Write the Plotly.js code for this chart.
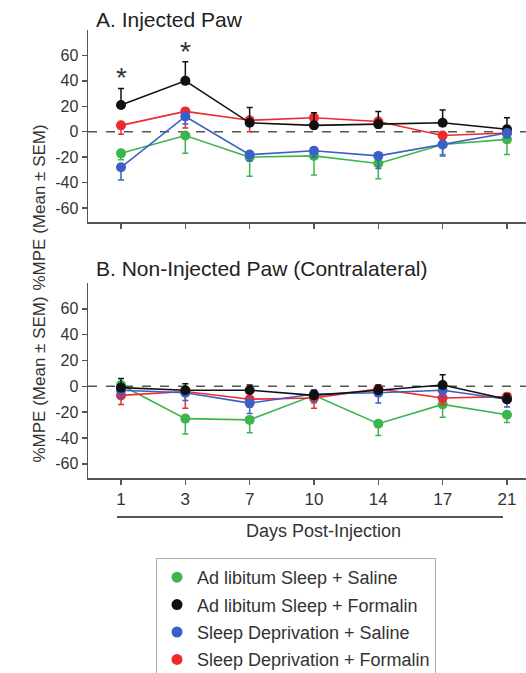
<!DOCTYPE html>
<html>
<head>
<meta charset="utf-8">
<script src="https://cdn.plot.ly/plotly-3.0.1.min.js"></script>
<style>html,body{margin:0;padding:0;background:#fff;}#chart{width:526px;height:673px;}</style>
</head>
<body>
<div id="chart"></div>
<script>
// ---- data ----
const days = ['1', '3', '7', '10', '14', '17', '21'];
const groupNames = ['Ad libitum Sleep + Saline', 'Ad libitum Sleep + Formalin', 'Sleep Deprivation + Saline', 'Sleep Deprivation + Formalin'];
const groupColors = ['#3cb54a', '#111111', '#3a5fc6', '#ee2a2f'];

// Panel A: Injected paw
const injAlSal = [-17, -3, -20, -19, -25, -10, -6];
const injAlSalErr = [5, 14, 15, 15, 12, 8, 12];
const injAlForm = [21, 40, 7, 5, 6, 7, 2];
const injAlFormErr = [13, 15, 12, 10, 10, 10, 9];
const injSdSal = [-28, 12, -18, -15, -19, -10, -1];
const injSdSalErr = [10, 6, 5, 5, 10, 9, 4];
const injSdForm = [5, 16, 9, 11, 8, -3, -1];
const injSdFormErr = [7, 13, 9, 4, 5, 3, 3];

// Panel B: Non-injected paw (contralateral)
const conAlSal = [1, -25, -26, -7, -29, -14, -22];
const conAlSalErr = [4, 12, 10, 6, 9, 10, 6];
const conAlForm = [-1, -3, -3, -7, -3, 1, -10];
const conAlFormErr = [7, 5, 4, 4, 4, 8, 4];
const conSdSal = [-3, -5, -13, -6, -5, -3, -10];
const conSdSalErr = [6, 6, 8, 6, 8, 5, 6];
const conSdForm = [-7, -4, -10, -9, -2, -9, -8];
const conSdFormErr = [7, 13, 6, 8, 4, 5, 5];

const yTicks = [-60, -40, -20, 0, 20, 40, 60];
const starDays = [0, 1];
const starY = [43, 63];

// ---- build ----
const FONT = 'Liberation Sans, Arial, sans-serif';
const TXT = '#333333';
const xIdx = days.map((d, i) => i);

function trace(y, err, up, color, xa, ya) {
  return {
    x: xIdx, y: y, xaxis: xa, yaxis: ya, type: 'scatter', mode: 'lines+markers',
    showlegend: false, hoverinfo: 'skip',
    line: {color: color, width: 1.6},
    marker: {color: color, size: 10},
    error_y: {type: 'data', symmetric: false,
      array: up ? err : err.map(() => 0),
      arrayminus: up ? err.map(() => 0) : err,
      color: color, thickness: 1.5, width: 3}
  };
}

const data = [
  trace(injAlSal, injAlSalErr, false, groupColors[0], 'x', 'y'),
  trace(injSdForm, injSdFormErr, false, groupColors[3], 'x', 'y'),
  trace(injAlForm, injAlFormErr, true, groupColors[1], 'x', 'y'),
  trace(injSdSal, injSdSalErr, false, groupColors[2], 'x', 'y'),
  trace(conAlSal, conAlSalErr, false, groupColors[0], 'x2', 'y2'),
  trace(conSdForm, conSdFormErr, false, groupColors[3], 'x2', 'y2'),
  trace(conSdSal, conSdSalErr, false, groupColors[2], 'x2', 'y2'),
  trace(conAlForm, conAlFormErr, true, groupColors[1], 'x2', 'y2')
];
groupNames.forEach((n, i) => {
  data.push({x: [null], y: [null], type: 'scatter', mode: 'markers', name: n,
    legendgroup: 'g' + i, marker: {color: groupColors[i], size: 11}, hoverinfo: 'skip'});
});

const W = 526, H = 673;
const py = p => (H - p) / H;
const xd = [88 / W, 1];
const xRange = [-0.513, 6.296];
function yaxis(domain) {
  return {domain: domain, range: [-71, 80], tickvals: yTicks, ticktext: yTicks.map(String),
    showgrid: false, zeroline: false, showline: true, linecolor: '#555', linewidth: 1.5,
    ticks: 'outside', ticklen: 5, tickwidth: 1.5, tickcolor: '#555',
    tickfont: {family: FONT, size: 16, color: TXT}, fixedrange: true};
}
function xaxis(domain, anchor, labels) {
  return {domain: domain, anchor: anchor, range: xRange, tickvals: xIdx, ticktext: days,
    showticklabels: labels, showgrid: false, zeroline: false, showline: true, linecolor: '#555', linewidth: 1.5,
    ticks: 'outside', ticklen: 5, tickwidth: 1.5, tickcolor: '#555',
    tickfont: {family: FONT, size: 17, color: TXT}, fixedrange: true};
}

const annotations = [
  {text: 'A. Injected Paw', xref: 'paper', yref: 'paper', x: 94 / W, y: py(19), xanchor: 'left', yanchor: 'middle',
    showarrow: false, font: {family: FONT, size: 21, color: '#222'}},
  {text: 'B. Non-Injected Paw (Contralateral)', xref: 'paper', yref: 'paper', x: 94 / W, y: py(268), xanchor: 'left', yanchor: 'middle',
    showarrow: false, font: {family: FONT, size: 21, color: '#222'}},
  {text: '%MPE (Mean ± SEM)', xref: 'paper', yref: 'paper', x: 27 / W, y: py(123), textangle: -90,
    showarrow: false, font: {family: FONT, size: 17, color: TXT}},
  {text: '%MPE (Mean ± SEM)', xref: 'paper', yref: 'paper', x: 27 / W, y: py(380), textangle: -90,
    showarrow: false, font: {family: FONT, size: 17, color: TXT}},
  {text: 'Days Post-Injection', xref: 'paper', yref: 'paper', x: 323 / W, y: py(531), xanchor: 'center', yanchor: 'middle',
    showarrow: false, font: {family: FONT, size: 18, color: TXT}}
];
starDays.forEach((d, i) => annotations.push({text: '*', xref: 'x', yref: 'y', x: d, y: starY[i],
  yanchor: 'middle', showarrow: false, font: {family: FONT, size: 28, color: '#333'}}));

const shapes = [
  {type: 'line', xref: 'paper', yref: 'y', x0: xd[0], x1: 1, y0: 0, y1: 0, line: {color: '#555', width: 1.5, dash: 'dash'}, layer: 'below'},
  {type: 'line', xref: 'paper', yref: 'y2', x0: xd[0], x1: 1, y0: 0, y1: 0, line: {color: '#555', width: 1.5, dash: 'dash'}, layer: 'below'},
  {type: 'line', xref: 'paper', yref: 'paper', x0: 117 / W, x1: 503 / W, y0: py(517), y1: py(517), line: {color: '#555', width: 2}}
];

const layout = {
  width: W, height: H, margin: {l: 0, r: 0, t: 0, b: 0, autoexpand: false},
  paper_bgcolor: '#fff', plot_bgcolor: '#fff',
  xaxis: xaxis(xd, 'y', false),
  yaxis: yaxis([py(222), py(30)]),
  xaxis2: xaxis(xd, 'y2', true),
  yaxis2: yaxis([py(478), py(283)]),
  annotations: annotations, shapes: shapes,
  showlegend: true,
  legend: {x: 156 / W, y: py(558), xanchor: 'left', yanchor: 'top',
    bordercolor: '#aaa', borderwidth: 1, bgcolor: '#fff',
    font: {family: FONT, size: 18, color: TXT}, traceorder: 'grouped', tracegroupgap: 1, itemwidth: 30}
};

Plotly.newPlot('chart', data, layout, {staticPlot: true, displayModeBar: false});
</script>
</body>
</html>
